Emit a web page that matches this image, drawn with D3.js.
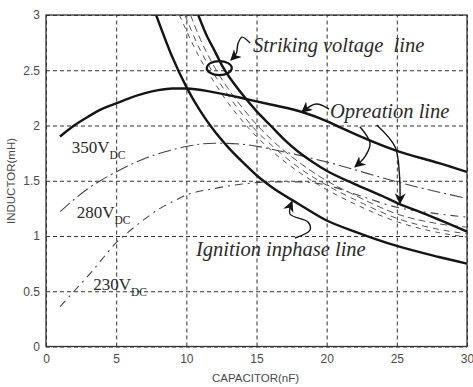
<!DOCTYPE html>
<html>
<head>
<meta charset="utf-8">
<script src="https://cdn.jsdelivr.net/npm/d3@7"></script>
<style>
  body { margin: 0; background: #fff; }
  svg { display: block; }
</style>
</head>
<body>
<figure id="chart" style="margin:0"></figure>
<script>
// tick values
const capTicks = [0, 5, 10, 15, 20, 25, 30];
const indTicks = [0, 0.5, 1, 1.5, 2, 2.5, 3];

// operation lines (rising then falling)
const cap350 = [1, 2, 3, 4, 5, 6, 7, 8, 9, 10, 12, 14.6, 16, 18.3, 20, 21, 25, 28, 30];
const ind350 = [1.9, 2.0, 2.08, 2.15, 2.2, 2.25, 2.29, 2.32, 2.335, 2.335, 2.3, 2.23, 2.19, 2.12, 2.04, 1.98, 1.77, 1.66, 1.58];
const cap280 = [1, 2, 3, 4, 5, 7, 9, 10, 12, 14, 17, 20.3, 25.3, 30];
const ind280 = [1.22, 1.33, 1.43, 1.51, 1.58, 1.7, 1.78, 1.81, 1.84, 1.83, 1.76, 1.66, 1.48, 1.34];
const cap230 = [1, 2, 3, 4, 5, 6, 7, 8, 9, 10, 12, 14, 16, 18, 20, 22, 25, 28, 30];
const ind230 = [0.36, 0.5, 0.64, 0.79, 0.94, 1.05, 1.15, 1.24, 1.31, 1.37, 1.43, 1.47, 1.49, 1.49, 1.46, 1.38, 1.26, 1.2, 1.17];

// ignition inphase line (thick, lower)
const capIgn = [7.85, 9, 10, 11, 12, 13, 14, 15, 16, 18, 20, 22, 25, 28, 30];
const indIgn = [3.0, 2.62, 2.35, 2.13, 1.95, 1.8, 1.67, 1.55, 1.45, 1.29, 1.14, 1.04, 0.91, 0.81, 0.75];

// striking voltage line (thick, upper)
const capStr = [10.85, 11.5, 12, 12.6, 13, 14, 15, 16, 17, 18, 19, 20, 22, 24, 25, 27, 30];
const indStr = [3.0, 2.8, 2.68, 2.53, 2.45, 2.28, 2.13, 2.0, 1.87, 1.76, 1.67, 1.59, 1.47, 1.36, 1.3, 1.2, 1.04];

// thin dashed striking lines
const capD1 = [10.3, 11, 12, 13, 14, 15, 16, 18, 20, 22, 25, 28, 30];
const indD1 = [3.0, 2.78, 2.53, 2.33, 2.16, 2.01, 1.88, 1.67, 1.5, 1.37, 1.2, 1.11, 1.08];
const capD2 = [9.9, 11, 12, 13, 14, 15, 16, 18, 20, 22, 25, 28, 30];
const indD2 = [3.0, 2.68, 2.46, 2.27, 2.1, 1.95, 1.83, 1.62, 1.46, 1.33, 1.16, 1.06, 1.02];
const capD3 = [9.5, 10, 11, 12, 13, 14, 15, 16, 18, 20, 22, 25, 28, 30];
const indD3 = [3.0, 2.86, 2.6, 2.39, 2.2, 2.04, 1.9, 1.78, 1.58, 1.42, 1.29, 1.13, 1.03, 0.99];

// set the dimensions of the plot area
const W = 473, H = 387;
const margin = {top: 15, right: 6, bottom: 40.5, left: 46};
const width = W - margin.left - margin.right,
      height = H - margin.top - margin.bottom;

const svg = d3.select("figure#chart")
  .append("svg")
  .attr("width", W)
  .attr("height", H);

const g = svg.append("g")
  .attr("transform", "translate(" + margin.left + "," + margin.top + ")");

const x = d3.scaleLinear().domain([0, 30]).range([0, width]);
const y = d3.scaleLinear().domain([0, 3]).range([height, 0]);

// clip so curves stop at the frame
g.append("clipPath").attr("id", "clip")
  .append("rect").attr("width", width).attr("height", height);

// grid
g.append("g")
  .attr("transform", `translate(0, ${height})`)
  .call(d3.axisBottom(x).tickValues(capTicks).tickSize(-height).tickFormat(""))
  .call(s => s.select(".domain").remove())
  .selectAll("line")
  .attr("stroke", "#333").attr("stroke-width", 1).attr("stroke-dasharray", "4,3");
g.append("g")
  .call(d3.axisLeft(y).tickValues(indTicks).tickSize(-width).tickFormat(""))
  .call(s => s.select(".domain").remove())
  .selectAll("line")
  .attr("stroke", "#333").attr("stroke-width", 1).attr("stroke-dasharray", "4,3");

// tick labels
const xa = g.append("g")
  .attr("transform", `translate(0, ${height})`)
  .call(d3.axisBottom(x).tickValues(capTicks).tickSize(0).tickPadding(8).tickFormat(d3.format("")));
const ya = g.append("g")
  .call(d3.axisLeft(y).tickValues(indTicks).tickSize(0).tickPadding(6).tickFormat(d3.format("")));
[xa, ya].forEach(a => {
  a.select(".domain").remove();
  a.selectAll("text")
    .attr("fill", "#4a4a4a")
    .style("font-family", "'Liberation Sans', Arial, sans-serif")
    .style("font-size", "12px");
});

// frame
g.append("rect")
  .attr("width", width).attr("height", height)
  .attr("fill", "none").attr("stroke", "#333").attr("stroke-width", 1.3);

// axis titles
svg.append("text")
  .attr("x", margin.left + x(15) - 1).attr("y", 382)
  .attr("text-anchor", "middle")
  .attr("fill", "#4a4a4a")
  .style("font-family", "'Liberation Sans', Arial, sans-serif")
  .style("font-size", "11.5px")
  .text("CAPACITOR(nF)");
svg.append("text")
  .attr("transform", "translate(15, 181) rotate(-90)")
  .attr("text-anchor", "middle")
  .attr("fill", "#4a4a4a")
  .style("font-family", "'Liberation Sans', Arial, sans-serif")
  .style("font-size", "11.5px")
  .text("INDUCTOR(mH)");

// curves
const zip = (cs, ls) => cs.map((c, i) => [c, ls[i]]);
const line = d3.line()
  .x(d => x(d[0]))
  .y(d => y(d[1]))
  .curve(d3.curveMonotoneX);

const series = [
  {c: capD1, l: indD1, w: 1, dash: "7,4", col: "#555"},
  {c: capD2, l: indD2, w: 1, dash: "6,5", col: "#555"},
  {c: capD3, l: indD3, w: 1, dash: "5,5", col: "#555"},
  {c: cap230, l: ind230, w: 1.1, dash: "8,5,2,5", col: "#444"},
  {c: cap280, l: ind280, w: 1.1, dash: "13,4,2,4", col: "#444"},
  {c: cap350, l: ind350, w: 2.4, dash: null, col: "#151515"},
  {c: capIgn, l: indIgn, w: 2.4, dash: null, col: "#151515"},
  {c: capStr, l: indStr, w: 2.4, dash: null, col: "#151515"}
];

const curves = g.append("g").attr("clip-path", "url(#clip)");
series.forEach(s => {
  curves.append("path")
    .datum(zip(s.c, s.l))
    .attr("d", line)
    .attr("fill", "none")
    .attr("stroke", s.col)
    .attr("stroke-width", s.w)
    .attr("stroke-dasharray", s.dash);
});

// arrowhead marker
svg.append("defs").append("marker")
  .attr("id", "arrow")
  .attr("viewBox", "0 0 10 10")
  .attr("refX", 9).attr("refY", 5)
  .attr("markerWidth", 11).attr("markerHeight", 11)
  .attr("markerUnits", "userSpaceOnUse")
  .attr("orient", "auto")
  .append("path")
  .attr("d", "M0,0 L10,5 L0,10 L3,5 Z")
  .attr("fill", "#151515");

// annotation leaders in data units
const leaders = [
  [[14.54, 2.747], [13.97, 2.80], [13.68, 2.74], [13.57, 2.656], [13.18, 2.593]],
  [[20.17, 2.149], [19.24, 2.195], [18.24, 2.122]],
  [[22.37, 1.989], [23.09, 1.839], [22.73, 1.718], [22.02, 1.627]],
  [[23.57, 2.005], [24.87, 1.808], [25.18, 1.567], [25.23, 1.296]],
  [[17.74, 0.982], [18.81, 1.054], [18.67, 1.127], [17.39, 1.199], [17.53, 1.31]]
];
const leaderLine = d3.line()
  .x(d => x(d[0]))
  .y(d => y(d[1]))
  .curve(d3.curveCatmullRom);
leaders.forEach(p => {
  g.append("path")
    .datum(p)
    .attr("d", leaderLine)
    .attr("fill", "none")
    .attr("stroke", "#151515")
    .attr("stroke-width", 1.4)
    .attr("marker-end", "url(#arrow)");
});

// ellipse around the striking lines
g.append("ellipse")
  .attr("cx", x(12.35)).attr("cy", y(2.52))
  .attr("rx", 12.5).attr("ry", 7)
  .attr("fill", "none")
  .attr("stroke", "#151515")
  .attr("stroke-width", 2.2);

// italic labels
const notes = [
  {t: "Striking voltage  line", cx: 14.75, cy: 2.665},
  {t: "Opreation line", cx: 20.24, cy: 2.07},
  {t: "Ignition inphase line", cx: 10.69, cy: 0.82}
];
notes.forEach(n => {
  g.append("text")
    .attr("x", x(n.cx)).attr("y", y(n.cy))
    .attr("fill", "#2a2a2a")
    .style("white-space", "pre")
    .style("font-family", "'Liberation Serif', 'Times New Roman', serif")
    .style("font-style", "italic")
    .style("font-size", "20.5px")
    .text(n.t);
});

// voltage labels
const volts = [
  {t: "350V", cx: 1.83, cy: 1.748},
  {t: "280V", cx: 2.19, cy: 1.16},
  {t: "230V", cx: 3.37, cy: 0.511}
];
volts.forEach(v => {
  const t = g.append("text")
    .attr("x", x(v.cx)).attr("y", y(v.cy))
    .attr("fill", "#2a2a2a")
    .style("font-family", "'Liberation Serif', 'Times New Roman', serif")
    .style("font-size", "17px");
  t.append("tspan").text(v.t);
  t.append("tspan").attr("dy", 6).style("font-size", "11.5px").text("DC");
});
</script>
</body>
</html>
